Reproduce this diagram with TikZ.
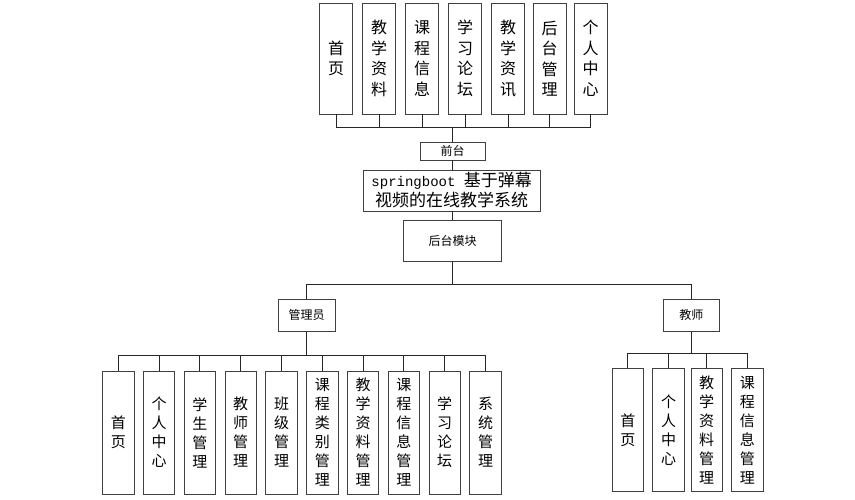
\documentclass[tikz,border=0pt]{standalone}
\usepackage{fontspec}
\setmainfont{Noto Sans CJK SC}
\newfontfamily\monof{Liberation Mono}
\begin{document}
\begin{tikzpicture}[x=1pt,y=-1pt,
  box/.style={draw=black!75,line width=0.9pt,inner sep=0pt,fill=white,align=center},
  topbox/.style={box,minimum width=33pt,minimum height=111pt,font=\fontsize{16}{20.5}\selectfont},
  botbox/.style={box,minimum width=31.5pt,minimum height=123pt,font=\fontsize{15}{19}\selectfont},
  smallbox/.style={box,font=\fontsize{12}{14}\selectfont},
  conn/.style={draw=black!85,line width=0.9pt}]
\useasboundingbox (0,0) rectangle (855,500);
% top row
\node[topbox] (t1) at (336,58.5) {首\\页};
\node[topbox] (t2) at (379,58.5) {教\\学\\资\\料};
\node[topbox] (t3) at (422,58.5) {课\\程\\信\\息};
\node[topbox] (t4) at (465,58.5) {学\\习\\论\\坛};
\node[topbox] (t5) at (508,58.5) {教\\学\\资\\讯};
\node[topbox] (t6) at (549.5,58.5) {后\\台\\管\\理};
\node[topbox] (t7) at (590.7,58.5) {个\\人\\中\\心};
\coordinate (tb) at (452,127.3);
\node[smallbox,minimum width=65pt,minimum height=17.5pt] (qt) at (452.5,151.3) {前台};
\node[box,minimum width=177pt,minimum height=41pt,font=\fontsize{17}{20}\selectfont] (sys) at (451.7,190.5) {{\monof\fontsize{14}{20}\selectfont springboot }基于弹幕\\视频的在线教学系统};
\node[smallbox,minimum width=98pt,minimum height=41pt] (ht) at (452.5,241.2) {后台模块};
\node[smallbox,minimum width=57pt,minimum height=32pt] (gly) at (306.7,315.2) {管理员};
\node[smallbox,minimum width=56pt,minimum height=32pt] (js) at (691.3,315.2) {教师};
\coordinate (mb) at (452,284.3);
% admin row
\foreach \i/\t in {0/{首\\页},1/{个\\人\\中\\心},2/{学\\生\\管\\理},3/{教\\师\\管\\理},4/{班\\级\\管\\理},5/{课\\程\\类\\别\\管\\理},6/{教\\学\\资\\料\\管\\理},7/{课\\程\\信\\息\\管\\理},8/{学\\习\\论\\坛},9/{系\\统\\管\\理}}{
  \node[botbox] (a\i) at ({118.3+40.8*\i},432.5) {\t};
}
\coordinate (ab) at (306.7,355.3);
% teacher row
\node[botbox] (b0) at (627.8,430.3) {首\\页};
\node[botbox] (b1) at (668.5,430.3) {个\\人\\中\\心};
\node[botbox] (b2) at (706.7,430.3) {教\\学\\资\\料\\管\\理};
\node[botbox] (b3) at (747.3,430.3) {课\\程\\信\\息\\管\\理};
\coordinate (jb) at (691.3,353);
% connectors
\foreach \n in {t1,t2,t3,t4,t5,t6,t7}{\draw[conn] (\n.south) |- (tb);}
\draw[conn] (tb) -- (tb |- qt.north);
\draw[conn] (tb |- qt.south) -- (tb |- sys.north);
\draw[conn] (tb |- sys.south) -- (tb |- ht.north);
\draw[conn] (tb |- ht.south) -- (mb);
\draw[conn] (mb) -| (gly.north);
\draw[conn] (mb) -| (js.north);
\draw[conn] (gly.south) -- (ab);
\foreach \i in {0,...,9}{\draw[conn] (a\i.north) |- (ab);}
\draw[conn] (js.south) -- (jb);
\foreach \i in {0,...,3}{\draw[conn] (b\i.north) |- (jb);}
\end{tikzpicture}
\end{document}
